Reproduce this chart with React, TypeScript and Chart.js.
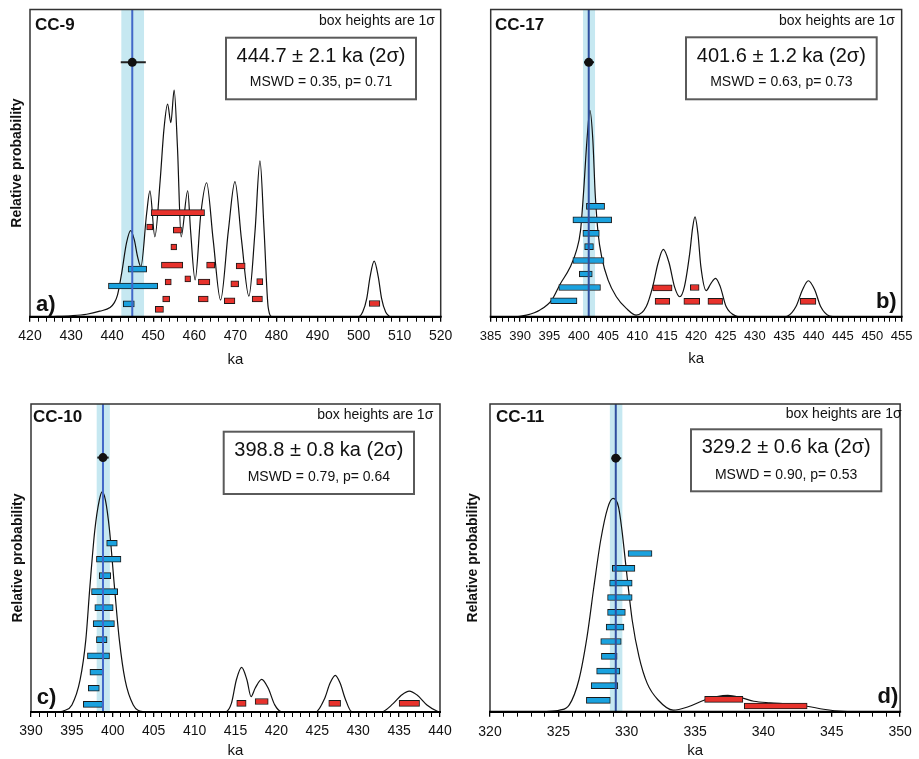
import React, { useEffect, useRef } from "react";
import { Chart, registerables } from "chart.js";

Chart.register(...registerables);

const FONT = '"Liberation Sans", Arial, Helvetica, sans-serif';

// ---------------- CC-9 (a) ----------------
const cc9Range = [420, 520];
const cc9TickSteps = [10, 2]; // major (labelled), minor
const cc9Curve: [number, number][] = [
  [425, 0], [430, 0.3], [433.8, 0.8], [437, 1.8], [439.5, 3], [440.5, 4.5], [441.3, 7],
  [442.3, 14], [443.5, 24], [444.5, 28], [445.4, 25], [446.2, 19.5], [447.0, 16.3],
  [448.4, 33.6], [449.2, 41], [450.4, 26], [451.7, 44.5], [452.6, 60.8], [453.5, 69.2],
  [454.3, 63.2], [455.1, 73.8], [455.9, 55.3], [456.8, 26], [458.4, 41], [459.1, 28],
  [460.2, 12], [461.6, 33.6], [463.0, 43.6], [464.6, 25], [466.4, 5.4], [468.3, 28],
  [469.9, 44], [471.5, 25], [473.3, 6.7], [474.8, 28], [476.0, 50.7], [477.0, 28],
  [478.0, 3], [479, 0], [500, 0], [501, 1.5], [502, 6], [502.8, 13], [503.8, 18.1],
  [504.8, 13], [505.6, 6], [506.6, 1.5], [507.6, 0],
];
const cc9Blue: [number, number, number][] = [
  [443.9, 448.4, 15.5], [439.1, 451.1, 10.0], [442.7, 445.4, 4.2],
];
const cc9Red: [number, number, number][] = [
  [449.5, 462.5, 33.9], [448.4, 449.9, 29.2], [454.9, 456.9, 28.2], [454.3, 455.7, 22.7],
  [452.0, 457.2, 16.8], [463.0, 465.0, 16.8], [470.2, 472.4, 16.5], [452.9, 454.4, 11.3],
  [457.7, 459.1, 12.3], [461.0, 463.8, 11.3], [468.9, 470.8, 10.7], [475.2, 476.7, 11.4],
  [452.3, 454.0, 5.75], [461.0, 463.4, 5.75], [467.3, 469.9, 5.2], [474.1, 476.6, 5.75],
  [450.5, 452.5, 2.4], [502.6, 505.2, 4.3],
];
const cc9Mean = [444.9, 442.2, 447.8]; // line, band low, band high
const cc9ErrBar = [442.1, 448.2, 82.8]; // low, high, level
const cc9Texts = ["CC-9", "444.7 ± 2.1 ka (2σ)", "MSWD = 0.35, p= 0.71", "a)"];

// ---------------- CC-17 (b) ----------------
const cc17Range = [385, 455];
const cc17TickSteps = [5, 1];
const cc17Curve: [number, number][] = [
  [389.4, 0], [391.1, 0.5], [393.4, 2.2], [395.4, 5.4], [396.8, 10.5], [398.5, 16],
  [399.6, 21.5], [400.3, 28], [400.8, 40], [401.4, 57.5], [401.9, 67.2], [402.4, 57.5],
  [402.8, 40], [403.3, 27.1], [403.9, 19.5], [405.0, 11.9], [406.4, 6.5], [408.1, 2.7],
  [409.8, 0.5], [411.5, 3.3], [412.6, 9.8], [413.5, 17.4], [414.4, 21.9], [415.4, 17.4],
  [416.3, 9.8], [417.2, 6.5], [418.0, 9.8], [418.9, 20.6], [419.4, 29], [419.8, 32.5],
  [420.3, 27], [420.8, 16.3], [421.7, 8.5], [422.5, 10.8], [423.3, 12.5], [424.1, 9.8],
  [425.1, 3.3], [426.8, 0.2], [427.5, 0], [435, 0], [435.6, 0.2], [437.0, 3.3],
  [438.1, 8.7], [439.1, 11.7], [440.2, 8.7], [441.2, 3.3], [442.7, 0.2], [443.5, 0],
];
const cc17Blue: [number, number, number][] = [
  [401.3, 404.4, 35.9], [399.0, 405.6, 31.5], [400.7, 403.5, 27.1], [401.0, 402.5, 22.8],
  [399.0, 404.3, 18.3], [400.1, 402.3, 13.9], [396.6, 403.7, 9.5], [395.2, 399.7, 5.2],
];
const cc17Red: [number, number, number][] = [
  [412.6, 415.9, 9.4], [419.0, 420.5, 9.5], [413.0, 415.5, 5.0], [417.9, 420.6, 5.0],
  [422.0, 424.5, 5.0], [437.7, 440.4, 5.0],
];
const cc17Mean = [401.7, 400.7, 402.8];
const cc17ErrBar = [400.9, 402.6, 82.8];
const cc17Texts = ["CC-17", "401.6 ± 1.2 ka (2σ)", "MSWD = 0.63, p= 0.73", "b)"];

// ---------------- CC-10 (c) ----------------
const cc10Range = [390, 440];
const cc10TickSteps = [5, 1];
const cc10Curve: [number, number][] = [
  [393.5, 0], [394.0, 0.4], [395.0, 2.3], [396.0, 10.4], [396.7, 23.4], [397.2, 40.7],
  [397.8, 59], [398.35, 68.8], [398.7, 71.5], [399.1, 68.8], [399.6, 59], [400.2, 40.7],
  [400.8, 23.4], [401.5, 10.4], [402.5, 2.3], [403.7, 0.1], [404.5, 0], [413.7, 0],
  [414.5, 2.8], [415.1, 10.4], [415.75, 14.5], [416.4, 10.4], [416.9, 5.0], [417.4, 7.7],
  [418.2, 10.6], [419.0, 7.7], [419.8, 2.3], [420.6, 0.1], [421.2, 0], [424.8, 0],
  [425.9, 4.4], [426.55, 9.3], [427.2, 11.9], [427.8, 9.3], [428.4, 4.4], [429.2, 0.1],
  [429.8, 0], [432.8, 0], [434.3, 2.8], [435.3, 5.5], [436.25, 6.8], [437.2, 5.5],
  [438.4, 2.3], [439.8, 0.1], [440, 0],
];
const cc10Blue: [number, number, number][] = [
  [399.25, 400.55, 54.8], [398.0, 401.0, 49.6], [398.35, 399.75, 44.3], [397.4, 400.6, 39.1],
  [397.8, 400.05, 33.9], [397.6, 400.2, 28.7], [398.0, 399.3, 23.5], [396.9, 399.6, 18.2],
  [397.2, 398.85, 12.9], [397.0, 398.35, 7.7], [396.4, 398.75, 2.5],
];
const cc10Red: [number, number, number][] = [
  [415.15, 416.3, 2.8], [417.4, 419.0, 3.4], [426.4, 427.85, 2.8], [435.0, 437.5, 2.8],
];
const cc10Mean = [398.8, 398.0, 399.65];
const cc10ErrBar = [398.1, 399.5, 82.6];
const cc10Texts = ["CC-10", "398.8 ± 0.8 ka (2σ)", "MSWD = 0.79, p= 0.64", "c)"];

// ---------------- CC-11 (d) ----------------
const cc11Range = [320, 350];
const cc11TickSteps = [5, 1];
const cc11Curve: [number, number][] = [
  [324.0, 0], [325.1, 0.5], [325.8, 2.2], [326.5, 10.3], [327.1, 24.4], [327.6, 40.6],
  [328.1, 55.8], [328.6, 66.1], [329.0, 69.3], [329.4, 66.6], [329.65, 59.0], [330.0, 45.0],
  [330.4, 29.8], [330.9, 17.9], [331.5, 9.2], [332.3, 3.8], [333.4, 0.5], [334.5, 1.6],
  [335.7, 3.8], [336.6, 4.9], [337.4, 5.3], [338.4, 4.5], [339.3, 3.4], [340.5, 2.9],
  [342.0, 2.5], [343.3, 1.7], [344.4, 0.8], [345.8, 0.1], [347, 0],
];
const cc11Blue: [number, number, number][] = [
  [330.1, 331.85, 51.4], [328.95, 330.6, 46.6], [328.75, 330.4, 41.8], [328.6, 330.4, 37.1],
  [328.6, 329.9, 32.3], [328.5, 329.8, 27.5], [328.1, 329.6, 22.8], [328.15, 329.3, 18.0],
  [327.8, 329.5, 13.2], [327.4, 329.35, 8.45], [327.05, 328.8, 3.7],
];
const cc11Red: [number, number, number][] = [
  [335.7, 338.5, 4.0], [338.6, 343.2, 1.85],
];
const cc11Mean = [329.2, 328.75, 329.7];
const cc11ErrBar = [328.9, 329.6, 82.4];
const cc11Texts = ["CC-11", "329.2 ± 0.6 ka (2σ)", "MSWD = 0.90, p= 0.53", "d)"];

const boxNote = "box heights are 1σ";
const yTitleText = "Relative probability";
const xTitleText = "ka";

// ---------------- styling ----------------
const BAND = "#c6e8f1";
const BLUE = "#1aa2df";
const RED = "#e8322c";

type PanelCfg = {
  range: number[]; steps: number[]; curve: [number, number][];
  blue: [number, number, number][]; red: [number, number, number][];
  mean: number[]; err: number[]; texts: string[];
  left: number; top: number; w: number; h: number;
  area: { left: number; top: number; right: number; bottom: number };
  tickFont: number; tickPad: number; kaPad: number; yTitle: boolean; yTitlePad: number;
  label: number[]; note: number[]; box: number[]; resY: number; statsY: number;
  tag: number[]; tagAlign: CanvasTextAlign; vline: string;
};

const panels: PanelCfg[] = [
  {
    range: cc9Range, steps: cc9TickSteps, curve: cc9Curve, blue: cc9Blue, red: cc9Red,
    mean: cc9Mean, err: cc9ErrBar, texts: cc9Texts,
    left: 0, top: 0, w: 460, h: 380,
    area: { left: 30, top: 9.5, right: 440.7, bottom: 316.7 },
    tickFont: 14, tickPad: 6, kaPad: 12.5, yTitle: true, yTitlePad: 10.3,
    label: [35, 25], note: [435, 20.7], box: [226, 37.7, 416, 99.3], resY: 56, statsY: 82.3,
    tag: [36, 305], tagAlign: "left", vline: "#4268c8",
  },
  {
    range: cc17Range, steps: cc17TickSteps, curve: cc17Curve, blue: cc17Blue, red: cc17Red,
    mean: cc17Mean, err: cc17ErrBar, texts: cc17Texts,
    left: 460, top: 0, w: 459, h: 380,
    area: { left: 30.7, top: 9.5, right: 442.7, bottom: 316.7 },
    tickFont: 13, tickPad: 6.5, kaPad: 13.5, yTitle: false, yTitlePad: 0,
    label: [35, 25], note: [435, 20.7], box: [226, 37.3, 416.7, 99.3], resY: 56, statsY: 82,
    tag: [436.7, 301.7], tagAlign: "right", vline: "#2f4f9f",
  },
  {
    range: cc10Range, steps: cc10TickSteps, curve: cc10Curve, blue: cc10Blue, red: cc10Red,
    mean: cc10Mean, err: cc10ErrBar, texts: cc10Texts,
    left: 0, top: 380, w: 460, h: 379,
    area: { left: 31, top: 24, right: 440, bottom: 332 },
    tickFont: 14, tickPad: 5.6, kaPad: 0.8, yTitle: true, yTitlePad: 11.3,
    label: [33, 37.3], note: [433.3, 35], box: [223.7, 51.7, 414, 114], resY: 70, statsY: 96.7,
    tag: [36.7, 318.3], tagAlign: "left", vline: "#4268c8",
  },
  {
    range: cc11Range, steps: cc11TickSteps, curve: cc11Curve, blue: cc11Blue, red: cc11Red,
    mean: cc11Mean, err: cc11ErrBar, texts: cc11Texts,
    left: 460, top: 380, w: 459, h: 379,
    area: { left: 30, top: 24, right: 444.3, bottom: 331.7 },
    tickFont: 14, tickPad: 7.2, kaPad: 0.8, yTitle: true, yTitlePad: 5.7,
    label: [36, 37.3], note: [441.7, 34.3], box: [231, 49.3, 421.3, 111.3], resY: 67.7, statsY: 94.7,
    tag: [438.3, 316.7], tagAlign: "right", vline: "#2f4f9f",
  },
];

function buildConfig(p: PanelCfg): any {
  const [xmin, xmax] = p.range;
  const [major, minor] = p.steps;
  const isMajor = (v: number) => Math.abs(((v - xmin) / major) - Math.round((v - xmin) / major)) < 1e-6;
  const curve = p.curve.map(([x, y]) => ({ x, y }));
  const blue = p.blue.map(([lo, hi, lv]) => ({ x: [lo, hi], y: lv }));
  const red = p.red.map(([lo, hi, lv]) => ({ x: [lo, hi], y: lv }));
  const [age, bandLo, bandHi] = p.mean;
  const [eLo, eHi, eLv] = p.err;

  const decor = {
    id: "decor",
    afterDatasetsDraw(chart: any) {
      const { ctx, chartArea: a } = chart;
      ctx.save();
      ctx.strokeStyle = "#333";
      ctx.lineWidth = 1.5;
      ctx.beginPath();
      ctx.moveTo(a.left, a.bottom);
      ctx.lineTo(a.left, a.top);
      ctx.lineTo(a.right, a.top);
      ctx.lineTo(a.right, a.bottom);
      ctx.stroke();
      ctx.strokeStyle = "#000";
      ctx.lineWidth = 2;
      ctx.beginPath();
      ctx.moveTo(a.left - 1, a.bottom);
      ctx.lineTo(a.right + 1, a.bottom);
      ctx.stroke();
      ctx.restore();
    },
    afterDraw(chart: any) {
      const ctx = chart.ctx;
      ctx.save();
      ctx.fillStyle = "#111";
      ctx.textBaseline = "middle";
      ctx.font = `bold 17px ${FONT}`;
      ctx.textAlign = "left";
      ctx.fillText(p.texts[0], p.label[0], p.label[1]);
      ctx.font = `14px ${FONT}`;
      ctx.textAlign = "right";
      ctx.fillText(boxNote, p.note[0], p.note[1]);
      const [x1, y1, x2, y2] = p.box;
      ctx.fillStyle = "#fff";
      ctx.fillRect(x1, y1, x2 - x1, y2 - y1);
      ctx.strokeStyle = "#5a5a5a";
      ctx.lineWidth = 2;
      ctx.strokeRect(x1, y1, x2 - x1, y2 - y1);
      ctx.fillStyle = "#111";
      ctx.textAlign = "center";
      ctx.font = `20px ${FONT}`;
      ctx.fillText(p.texts[1], (x1 + x2) / 2, p.resY);
      ctx.font = `14px ${FONT}`;
      ctx.fillText(p.texts[2], (x1 + x2) / 2, p.statsY);
      ctx.font = `bold 22px ${FONT}`;
      ctx.textAlign = p.tagAlign;
      ctx.fillText(p.texts[3], p.tag[0], p.tag[1]);
      ctx.restore();
    },
  };

  return {
    type: "line",
    data: {
      datasets: [
        { type: "line", data: [{ x: bandLo, y: 100 }, { x: bandHi, y: 100 }], fill: "origin",
          backgroundColor: BAND, borderWidth: 0, borderColor: "rgba(0,0,0,0)", pointRadius: 0, order: 6 },
        { type: "line", data: curve, borderColor: "#111", borderWidth: 1.2, pointRadius: 0,
          cubicInterpolationMode: "monotone", fill: false, order: 5 },
        { type: "bar", indexAxis: "y", data: blue, backgroundColor: BLUE, borderColor: "#1a1a1a",
          borderWidth: 1, borderSkipped: false, barThickness: 6, grouped: false, order: 4 },
        { type: "bar", indexAxis: "y", data: red, backgroundColor: RED, borderColor: "#1a1a1a",
          borderWidth: 1, borderSkipped: false, barThickness: 6, grouped: false, order: 3 },
        { type: "line", data: [{ x: age, y: 0 }, { x: age, y: 100 }], borderColor: p.vline,
          borderWidth: 2, pointRadius: 0, fill: false, order: 2 },
        { type: "line", data: [{ x: eLo, y: eLv }, { x: eHi, y: eLv }], borderColor: "#222",
          borderWidth: 2, pointRadius: 0, fill: false, order: 1 },
        { type: "line", data: [{ x: age, y: eLv }], showLine: false, pointRadius: 4.5,
          pointBackgroundColor: "#111", pointBorderWidth: 0, order: 0 },
      ],
    },
    options: {
      animation: false,
      responsive: false,
      devicePixelRatio: 1,
      events: [],
      layout: { padding: { left: 0, top: p.area.top, right: p.w - p.area.right, bottom: 0 } },
      plugins: { legend: { display: false }, tooltip: { enabled: false } },
      scales: {
        x: {
          type: "linear", min: xmin, max: xmax, offset: false,
          afterFit: (s: any) => { s.height = p.h - p.area.bottom; },
          border: { display: true, color: "#000", width: 2 },
          grid: {
            display: true, drawOnChartArea: false, drawTicks: true, tickLength: 5, offset: false,
            color: "#000", tickColor: "#000",
            lineWidth: (c: any) => (c.tick && isMajor(c.tick.value) ? 1.3 : 1),
          },
          ticks: {
            stepSize: minor, autoSkip: false, maxRotation: 0, minRotation: 0, maxTicksLimit: 1000,
            padding: p.tickPad, color: "#111", font: { family: FONT, size: p.tickFont },
            callback: (v: number) => (isMajor(v) ? String(Math.round(v)) : ""),
          },
          title: {
            display: true, text: xTitleText, color: "#111",
            font: { family: FONT, size: 15, lineHeight: 1 }, padding: { top: 0, bottom: p.kaPad },
          },
        },
        y: {
          type: "linear", min: 0, max: 100, display: true, offset: false, beginAtZero: true,
          afterFit: (s: any) => { s.width = p.area.left; },
          ticks: { display: false }, grid: { display: false, offset: false }, border: { display: false },
          title: {
            display: p.yTitle, text: yTitleText, color: "#111",
            font: { family: FONT, size: 14, weight: "bold", lineHeight: 1 },
            padding: { top: p.yTitlePad, bottom: 0 },
          },
        },
      },
    },
    plugins: [decor],
  };
}

function Panel({ cfg }: { cfg: PanelCfg }) {
  const ref = useRef<HTMLCanvasElement>(null);
  useEffect(() => {
    const chart = new Chart(ref.current as HTMLCanvasElement, buildConfig(cfg));
    return () => chart.destroy();
  }, [cfg]);
  return (
    <canvas
      ref={ref}
      width={cfg.w}
      height={cfg.h}
      style={{ position: "absolute", left: cfg.left, top: cfg.top, width: cfg.w, height: cfg.h }}
    />
  );
}

export default function App() {
  return (
    <div style={{ position: "fixed", left: 0, top: 0, width: 919, height: 759, background: "#fff", overflow: "hidden" }}>
      {panels.map((p, i) => (
        <Panel key={i} cfg={p} />
      ))}
    </div>
  );
}
